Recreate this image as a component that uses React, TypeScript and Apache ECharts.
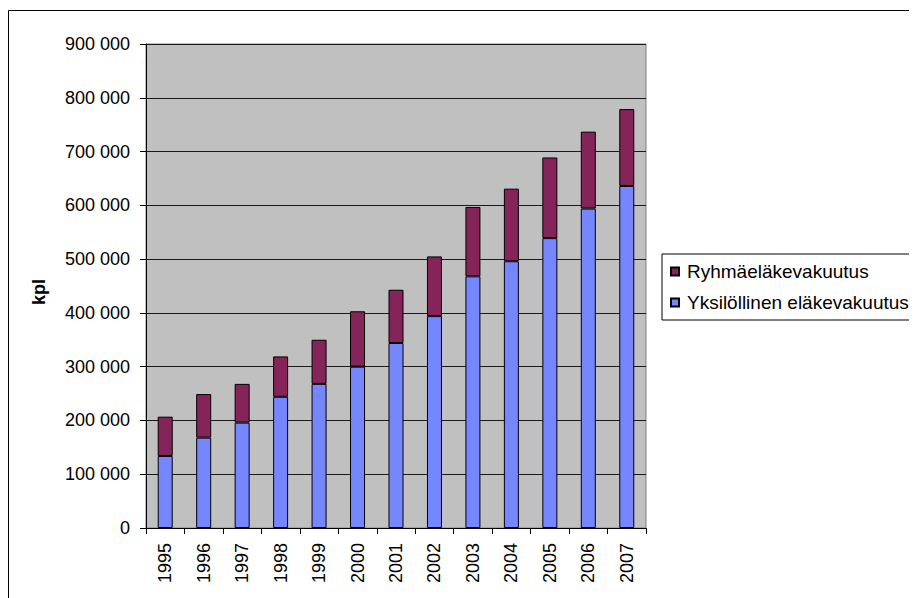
import React, { useEffect, useRef } from "react";
import * as echarts from "echarts";

const years = ["1995", "1996", "1997", "1998", "1999", "2000", "2001", "2002", "2003", "2004", "2005", "2006", "2007"];
const yksilollinen = [134000, 168000, 196000, 244000, 268000, 300000, 344000, 394000, 468000, 496000, 539000, 594000, 636000];
const ryhma = [73000, 81000, 72000, 75000, 82000, 103000, 99000, 111000, 129000, 135000, 150000, 143000, 143000];
const seriesNames = ["Ryhmäeläkevakuutus", "Yksilöllinen eläkevakuutus"];
const yAxisName = "kpl";

const FONT = "'Liberation Sans', Arial, sans-serif";

export default function App() {
  const ref = useRef<HTMLDivElement>(null);
  useEffect(() => {
    if (!ref.current) return;
    const chart = echarts.init(ref.current, null, { renderer: "svg" });
    chart.setOption({
      animation: false,
      backgroundColor: "#ffffff",
      textStyle: { fontFamily: FONT },
      graphic: [
        { type: "line", shape: { x1: 0.5, y1: 2.5, x2: 909, y2: 2.5 }, style: { stroke: "#000", lineWidth: 1 } },
        { type: "line", shape: { x1: 0.5, y1: 2.5, x2: 0.5, y2: 590 }, style: { stroke: "#000", lineWidth: 1 } },
      ],
      grid: {
        left: 138,
        top: 36,
        right: 271,
        bottom: 70,
        show: true,
        backgroundColor: "#C0C0C0",
        borderColor: "#808080",
        borderWidth: 1,
      },
      legend: {
        orient: "vertical",
        left: 654,
        top: 246,
        data: seriesNames,
        itemWidth: 8,
        itemHeight: 8,
        itemGap: 12,
        icon: "rect",
        padding: [8, 40, 8, 8],
        borderColor: "#000",
        borderWidth: 1,
        backgroundColor: "#fff",
        textStyle: { fontFamily: FONT, fontSize: 19, color: "#000", padding: [0, 0, 0, 3] },
      },
      xAxis: {
        type: "category",
        data: years,
        boundaryGap: true,
        axisLine: { lineStyle: { color: "#000", width: 1 } },
        axisTick: { show: true, alignWithLabel: false, length: 6, lineStyle: { color: "#000" } },
        axisLabel: { rotate: 90, fontFamily: FONT, fontSize: 18, color: "#000", margin: 15 },
      },
      yAxis: {
        type: "value",
        min: 0,
        max: 900000,
        interval: 100000,
        name: yAxisName,
        nameLocation: "middle",
        nameRotate: 90,
        nameGap: 98,
        nameTextStyle: { fontFamily: FONT, fontSize: 18, fontWeight: "bold", color: "#000", padding: [0, 12, 0, 0] },
        axisLine: { show: true, lineStyle: { color: "#000", width: 1 } },
        axisTick: { show: true, length: 6, lineStyle: { color: "#000" } },
        axisLabel: {
          fontFamily: FONT,
          fontSize: 18,
          color: "#000",
          margin: 16,
          formatter: (v: number) => String(v).replace(/\B(?=(\d{3})+(?!\d))/g, " "),
        },
        splitLine: { show: true, lineStyle: { color: "#1a1a1a", width: 1 } },
      },
      series: [
        {
          name: seriesNames[1],
          type: "bar",
          stack: "total",
          data: yksilollinen,
          barWidth: 15,
          itemStyle: { color: "#7586FF", borderColor: "#000", borderWidth: 1 },
        },
        {
          name: seriesNames[0],
          type: "bar",
          stack: "total",
          data: ryhma,
          barWidth: 15,
          itemStyle: { color: "#842458", borderColor: "#000", borderWidth: 1 },
        },
      ],
    });
    return () => chart.dispose();
  }, []);
  return <div ref={ref} style={{ width: 909, height: 590 }} />;
}
